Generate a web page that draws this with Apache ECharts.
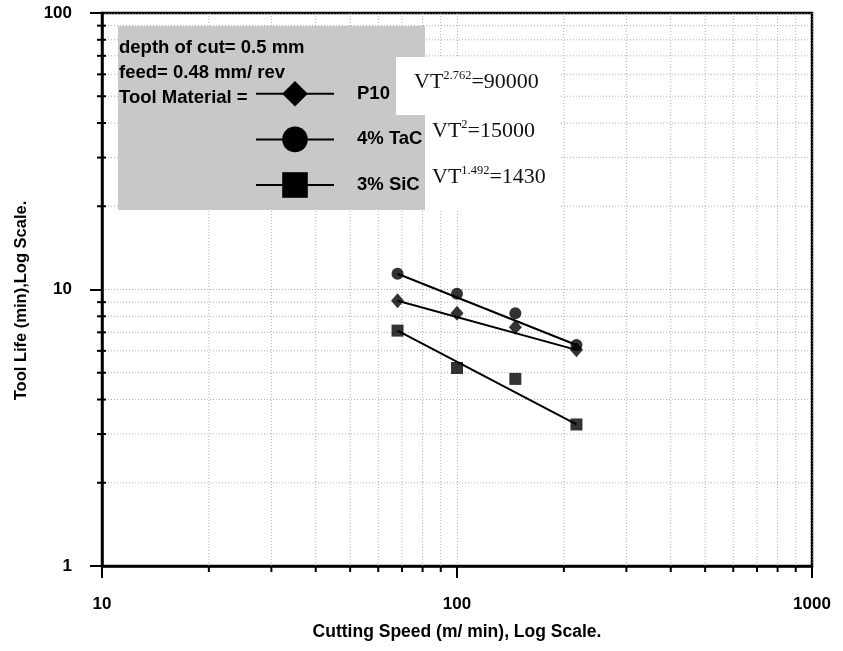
<!DOCTYPE html>
<html>
<head>
<meta charset="utf-8">
<script src="https://cdn.jsdelivr.net/npm/echarts@6/dist/echarts.min.js"></script>
<style>
  html, body { margin: 0; padding: 0; background: #fff; }
  #chart { width: 843px; height: 651px; }
</style>
</head>
<body>
<div id="chart"></div>
<script>
// Cutting speed (m/min) for each test
const speeds = [68, 100, 146, 217];
// Tool life (min) per tool material
const lifeP10 = [9.1, 8.2, 7.3, 6.05];
const lifeTaC = [11.4, 9.65, 8.2, 6.3];
const lifeSiC = [7.1, 5.2, 4.75, 3.25];
// Taylor fit lines (end points: speed, life)
const fitP10 = [[68, 9.1], [217, 6.05]];
const fitTaC = [[68, 11.4], [217, 6.3]];
const fitSiC = [[68, 7.1], [217, 3.25]];
// Intermediate log-decade grid values
const xMinor = [20, 30, 40, 50, 60, 70, 80, 90, 200, 300, 400, 500, 600, 700, 800, 900];
const yMinor = [2, 3, 4, 5, 6, 7, 8, 9, 20, 30, 40, 50, 60, 70, 80, 90];
const materials = ['P10', '4% TaC', '3% SiC'];
const equations = [
  ['VT', '2.762', '=90000'],
  ['VT', '2', '=15000'],
  ['VT', '1.492', '=1430']
];

const SANS = 'Liberation Sans, Arial, sans-serif';
const SERIF = 'Liberation Serif, Times New Roman, serif';
const GRID_COLOR = '#8c8c8c';

function pairs(xs, ys) { return xs.map((x, i) => [x, ys[i]]); }

// Dotted grid line plus small axis tick for every intermediate decade value
function minorGrid(values, isX) {
  return {
    type: 'custom',
    silent: true,
    z: 1,
    clip: false,
    data: values.map(v => isX ? [v, 1] : [10, v]),
    renderItem(params, api) {
      const v = api.value(isX ? 0 : 1);
      const a = isX ? api.coord([v, 1]) : api.coord([10, v]);
      const b = isX ? api.coord([v, 100]) : api.coord([1000, v]);
      const tick = isX
        ? { x1: a[0], y1: a[1], x2: a[0], y2: a[1] + 6 }
        : { x1: a[0] - 5, y1: a[1], x2: a[0] + 4, y2: a[1] };
      return {
        type: 'group',
        children: [
          { type: 'line', shape: { x1: a[0], y1: a[1], x2: b[0], y2: b[1] },
            style: { stroke: GRID_COLOR, lineWidth: 1, lineDash: [1, 2], opacity: 0.7 } },
          { type: 'line', shape: tick, style: { stroke: '#000', lineWidth: 2 } }
        ]
      };
    }
  };
}

function fitLine(name, data, symbol) {
  return {
    name, type: 'line', data, symbol, showSymbol: false, z: 5,
    lineStyle: { color: '#000', width: 2 },
    itemStyle: { color: '#000' },
    emphasis: { disabled: true }
  };
}

function points(name, data, symbol, size) {
  return {
    name, type: 'scatter', data, symbol, symbolSize: size, z: 6,
    itemStyle: { color: '#000' },
    emphasis: { disabled: true }
  };
}

const tickText = { fontFamily: SANS, fontSize: 17, fontWeight: 'bold', color: '#000' };

const eqLeft = [414, 432, 432];
const eqMid = [82, 131, 177];
const eqGraphics = equations.map((eq, i) => ({
  type: 'text',
  left: eqLeft[i],
  top: eqMid[i] - 13,
  z: 10,
  style: {
    text: `{b|${eq[0]}}{s|${eq[1]}}{b|${eq[2]}}`,
    rich: {
      b: { fontFamily: SERIF, fontSize: 22, lineHeight: 26, fill: '#111' },
      s: { fontFamily: SERIF, fontSize: 12.5, lineHeight: 26, verticalAlign: 'top', fill: '#111' }
    }
  }
}));

const infoLines = ['depth of cut= 0.5 mm', 'feed= 0.48 mm/ rev', 'Tool Material ='];
const infoGraphics = infoLines.map((t, i) => ({
  type: 'text', left: 119, top: 38 + i * 25, z: 10,
  style: { text: t, fontFamily: SANS, fontSize: 18.5, fontWeight: 'bold', fill: '#000' }
}));

const chart = echarts.init(document.getElementById('chart'), null, { renderer: 'canvas' });
chart.setOption({
  animation: false,
  backgroundColor: '#fff',
  grid: {
    left: 102, right: 31, top: 13, bottom: 85,
    show: true, borderColor: '#000', borderWidth: 2.5, backgroundColor: 'transparent'
  },
  xAxis: {
    type: 'log', logBase: 10, min: 10, max: 1000,
    name: 'Cutting Speed (m/ min), Log Scale.',
    nameLocation: 'middle', nameGap: 57,
    nameTextStyle: { fontFamily: SANS, fontSize: 17.5, fontWeight: 'bold', color: '#000' },
    axisLine: { onZero: false, lineStyle: { color: '#000', width: 2.5 } },
    axisTick: { length: 12, lineStyle: { color: '#000', width: 2 } },
    axisLabel: Object.assign({ margin: 30, formatter: v => String(v) }, tickText),
    splitLine: { show: true, lineStyle: { color: GRID_COLOR, type: [1, 2], opacity: 0.7 } },
    minorTick: { show: false }
  },
  yAxis: {
    type: 'log', logBase: 10, min: 1, max: 100,
    name: 'Tool Life (min),Log Scale.',
    nameLocation: 'middle', nameGap: 72,
    nameTextStyle: { fontFamily: SANS, fontSize: 16.5, fontWeight: 'bold', color: '#000', padding: [0, 22, 0, 0] },
    axisLine: { onZero: false, lineStyle: { color: '#000', width: 2.5 } },
    axisTick: { length: 12, lineStyle: { color: '#000', width: 2 } },
    axisLabel: Object.assign({ margin: 30, formatter: v => String(v) }, tickText),
    splitLine: { show: true, lineStyle: { color: GRID_COLOR, type: [1, 2], opacity: 0.7 } },
    minorTick: { show: false }
  },
  legend: {
    orient: 'vertical', left: 250, top: 76,
    itemWidth: 78, itemHeight: 32, itemGap: 20,
    selectedMode: false, z: 12,
    data: materials,
    textStyle: { fontFamily: SANS, fontSize: 18.5, fontWeight: 'bold', color: '#000', padding: [0, 0, 0, 18] }
  },
  graphic: [
    { type: 'rect', z: 8, shape: { x: 118, y: 26, width: 307, height: 184 }, style: { fill: '#c8c8c8' } },
    { type: 'rect', z: 9, shape: { x: 396, y: 57, width: 165, height: 58 }, style: { fill: '#fff' } },
    { type: 'rect', z: 9, shape: { x: 426, y: 112, width: 135, height: 98 }, style: { fill: '#fff' } }
  ].concat(infoGraphics, eqGraphics),
  series: [
    fitLine(materials[0], fitP10, 'diamond'),
    fitLine(materials[1], fitTaC, 'circle'),
    fitLine(materials[2], fitSiC, 'rect'),
    points('P10 tests', pairs(speeds, lifeP10), 'diamond', [13, 15]),
    points('TaC tests', pairs(speeds, lifeTaC), 'circle', 12),
    points('SiC tests', pairs(speeds, lifeSiC), 'rect', 12),
    minorGrid(xMinor, true),
    minorGrid(yMinor, false)
  ]
});
</script>
</body>
</html>
